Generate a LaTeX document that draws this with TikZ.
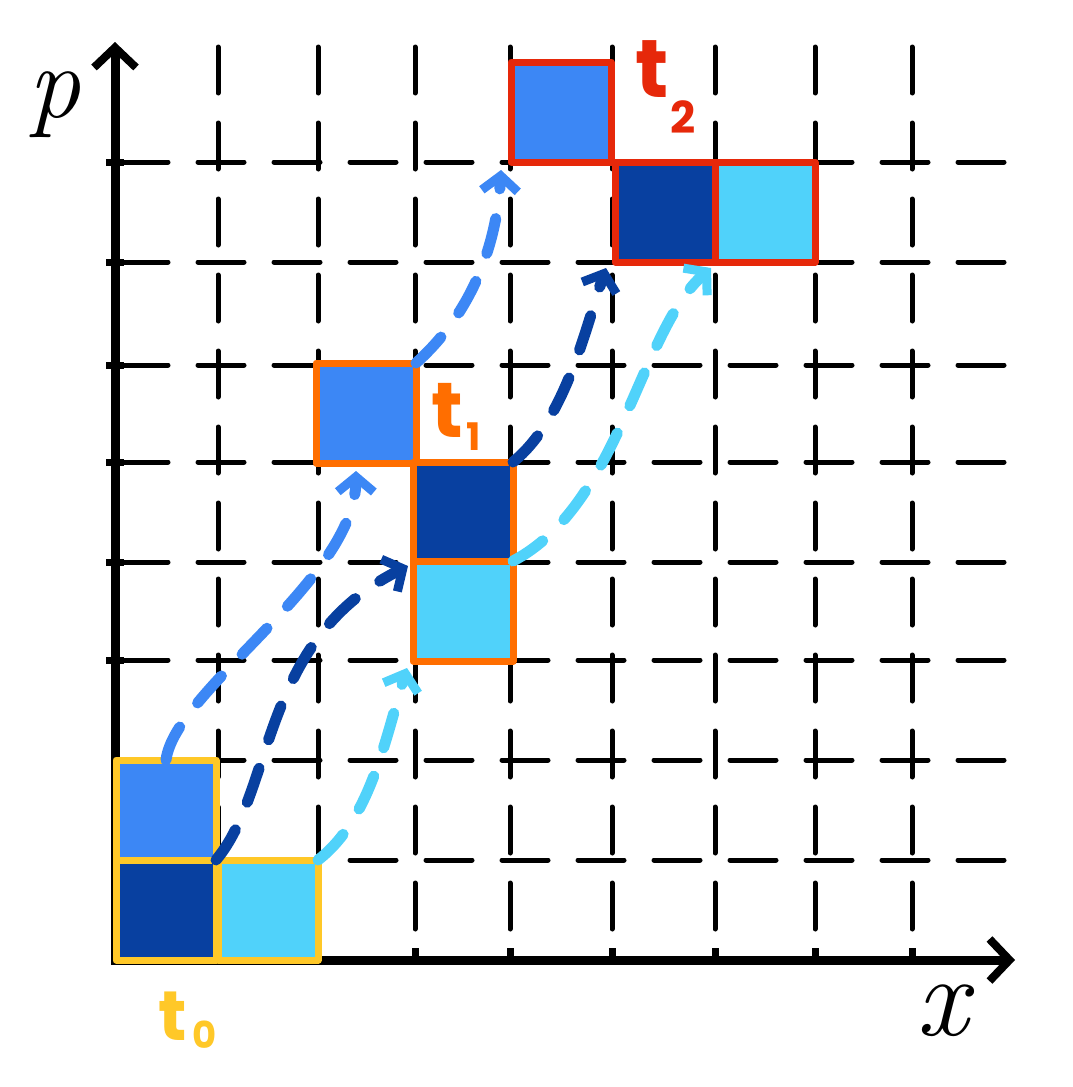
\documentclass[tikz,border=0pt]{standalone}
\usepackage{fontspec}
\newfontfamily\hand{Poppins}
\usetikzlibrary{arrows.meta}
\definecolor{mblue}{RGB}{60,135,245}
\definecolor{dblue}{RGB}{8,64,160}
\definecolor{cyanl}{RGB}{80,210,250}
\definecolor{yel}{RGB}{255,200,40}
\definecolor{orng}{RGB}{255,110,0}
\definecolor{redd}{RGB}{230,40,10}
\begin{document}
\begin{tikzpicture}[x=1pt,y=-1pt,
 gridln/.style={line width=5pt, line cap=round, dash pattern=on 46pt off 30pt},
 axisln/.style={line width=9pt, -{Straight Barb[length=20pt,width=42pt,line width=8pt]}},
 tickln/.style={line width=7pt},
 sq/.style={rectangle, minimum width=100pt, minimum height=100pt, inner sep=0pt, outer sep=0pt, line width=7pt, line join=round},
 conn/.style={line width=11pt, line cap=round, dash pattern=on 36pt off 30pt, -{Straight Barb[length=15pt,width=36pt,line width=9pt]}},
 lab/.style={inner sep=0pt, anchor=base west, font=\hand\bfseries},
 axlab/.style={inner sep=0pt, anchor=base, font=\itshape}
]
\fill[white] (0,0) rectangle (1073,1087);
\useasboundingbox (0,0) rectangle (1073,1087);
% grid
\foreach \gx in {218,318,415,510,612,715,815,912} \draw[gridln] (\gx,47) -- (\gx,955);
\foreach \gy in {860,760,660,562,462,365,262,162} \draw[gridln] (122,\gy) -- (1020,\gy);
% axes
\coordinate (O) at (115,964);
\coordinate (ptop) at (115,42);
\coordinate (xo) at (111,960);
\coordinate (xend) at (1015,960);
\draw[axisln] (O) -- (ptop);
\draw[axisln] (xo) -- (xend);
\foreach \ty in {162,262,365,462,562,660} \draw[tickln] (106,\ty) -- (124,\ty);
\foreach \tx in {415,510,612,715,815,912} \draw[tickln] (\tx,948) -- (\tx,962);
% t0 squares
\node[sq, fill=dblue, draw=yel] (a0) at (166,910) {};
\node[sq, fill=cyanl, draw=yel] (c0) at (268,910) {};
\node[sq, fill=mblue, draw=yel] (b0) at (166,810) {};
% t1 squares
\node[sq, fill=mblue, draw=orng] (b1) at (366,413) {};
\node[sq, fill=dblue, draw=orng] (a1) at (463,512) {};
\node[sq, fill=cyanl, draw=orng] (c1) at (463,611) {};
% t2 squares
\node[sq, fill=mblue, draw=redd] (b2) at (561,112) {};
\node[sq, fill=dblue, draw=redd] (a2) at (665,212) {};
\node[sq, fill=cyanl, draw=redd] (c2) at (765,212) {};
% connectors
\draw[conn, mblue] (b0.north) .. controls (175,690) and (355,580) .. ([shift={(-10pt,-8pt)}]b1.south);
\draw[conn, mblue] (b1.north east) .. controls (475,310) and (497,240) .. ([shift={(-10pt,-8pt)}]b2.south west);
\draw[conn, dblue] (a0.north east) .. controls (275,790) and (260,640) .. ([shift={(-5pt,-4pt)}]a1.south west);
\draw[conn, dblue] (a1.north east) .. controls (565,420) and (585,330) .. ([shift={(-9pt,-6pt)}]a2.south west);
\draw[conn, cyanl] (c0.north east) .. controls (370,820) and (385,740) .. ([shift={(-6pt,-7pt)}]c1.south west);
\draw[conn, cyanl] (c1.north east) .. controls (620,505) and (640,330) .. ([shift={(-4pt,-6pt)}]c2.south west);
% labels
\node[axlab] (plab) at (54,117) {\fontsize{104}{104}\selectfont p};
\node[axlab] (xlab) at (942,1035) {\fontsize{115}{115}\selectfont x};
\node[lab, yel] (t0) at (158,1040) {\fontsize{70}{70}\selectfont t\kern6pt\raisebox{-8pt}{\fontsize{37}{37}\selectfont 0}};
\node[lab, orng] (t1) at (431,437) {\fontsize{78}{78}\selectfont t\kern4pt\raisebox{-13pt}{\fontsize{38}{38}\selectfont 1}};
\node[lab, redd] (t2) at (635,97) {\fontsize{82}{82}\selectfont t\kern2pt\raisebox{-36pt}{\fontsize{44}{44}\selectfont 2}};
\end{tikzpicture}
\end{document}
